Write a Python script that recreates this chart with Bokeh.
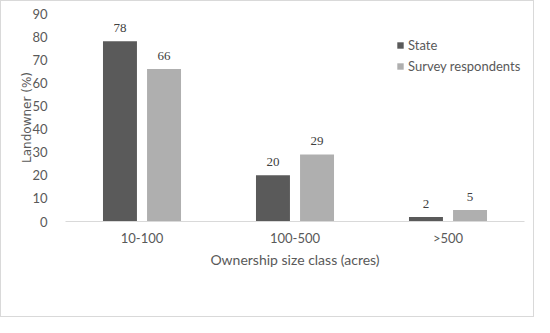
from bokeh.plotting import figure
from bokeh.models import FactorRange, Range1d, ColumnDataSource, Legend, LegendItem, LabelSet, FixedTicker
from bokeh.transform import dodge
from bokeh.embed import file_html
from bokeh.resources import INLINE

categories = ["10-100", "100-500", ">500"]
state = [78, 20, 2]
survey = [66, 29, 5]
series_names = ["State", "Survey respondents"]
y_ticks = [0, 10, 20, 30, 40, 50, 60, 70, 80, 90]

FONT = "Lato"
TXT = "#595959"

src = ColumnDataSource(dict(cat=categories, state=state, survey=survey,
                            state_lbl=[str(v) for v in state],
                            survey_lbl=[str(v) for v in survey]))

p = figure(x_range=FactorRange(*categories), y_range=Range1d(0, 90),
           width=534, height=317, output_backend="svg", toolbar_location=None,
           min_border_left=64, min_border_right=11, min_border_top=12, min_border_bottom=97)
p.styles = {"border": "1px solid #d9d9d9", "box-sizing": "border-box"}
p.outline_line_color = None
p.xgrid.grid_line_color = None
p.ygrid.grid_line_color = None

r1 = p.vbar(x=dodge("cat", -0.144, range=p.x_range), top="state", width=0.222,
            source=src, fill_color="#5a5a5a", line_color=None)
r2 = p.vbar(x=dodge("cat", 0.144, range=p.x_range), top="survey", width=0.222,
            source=src, fill_color="#afafaf", line_color=None)

for xcol, off, lbl in [("state", -0.144, "state_lbl"), ("survey", 0.144, "survey_lbl")]:
    ls = LabelSet(x=dodge("cat", off, range=p.x_range), y=xcol, text=lbl, source=src,
                  y_offset=9, text_align="center", text_baseline="bottom",
                  text_font=FONT, text_font_size="13px", text_color="#404040")
    p.add_layout(ls)

p.yaxis.ticker = FixedTicker(ticks=y_ticks)
p.yaxis.axis_line_color = None
p.yaxis.major_tick_line_color = None
p.yaxis.minor_tick_line_color = None
p.yaxis.major_label_text_font = FONT
p.yaxis.major_label_text_font_size = "13px"
p.yaxis.major_label_text_color = TXT
p.yaxis.major_label_standoff = 12
p.yaxis.axis_label = "Landowner (%)"
p.yaxis.axis_label_text_font = "DejaVu Sans"
p.yaxis.axis_label_text_font_size = "12px"
p.yaxis.axis_label_text_font_style = "normal"
p.yaxis.axis_label_text_color = TXT
p.yaxis.axis_label_standoff = -5

p.xaxis.axis_line_color = "#d9d9d9"
p.xaxis.major_tick_line_color = None
p.xaxis.minor_tick_line_color = None
p.xaxis.major_label_text_font = FONT
p.xaxis.major_label_text_font_size = "13px"
p.xaxis.major_label_text_color = TXT
p.xaxis.major_label_standoff = 2
p.xaxis.axis_label = "Ownership size class (acres)"
p.xaxis.axis_label_text_font = FONT
p.xaxis.axis_label_text_font_size = "14px"
p.xaxis.axis_label_text_font_style = "normal"
p.xaxis.axis_label_text_color = TXT
p.xaxis.axis_label_standoff = 2

legend = Legend(items=[LegendItem(label=series_names[0], renderers=[r1]),
                       LegendItem(label=series_names[1], renderers=[r2])],
                location=(331, 147), glyph_width=8, glyph_height=8,
                label_text_font=FONT, label_text_font_size="13px", label_text_color=TXT,
                spacing=5, padding=0, border_line_color=None, background_fill_alpha=0,
                label_standoff=4)
p.add_layout(legend)

open("out.html", "w").write(file_html(p, INLINE))
